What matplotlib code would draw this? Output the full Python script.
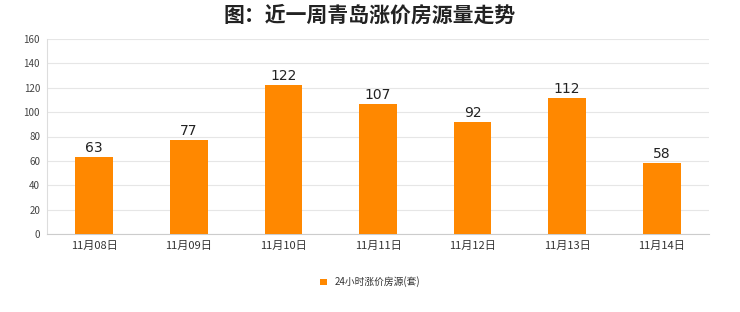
import matplotlib
matplotlib.use("Agg")
import matplotlib.pyplot as plt
from matplotlib.patches import Patch

plt.rcParams['font.family'] = ['Noto Sans CJK SC', 'DejaVu Sans']

categories = ["11月08日", "11月09日", "11月10日", "11月11日", "11月12日", "11月13日", "11月14日"]
values = [63, 77, 122, 107, 92, 112, 58]
series_name = "24小时涨价房源(套)"
title = "图：近一周青岛涨价房源量走势"
yticks = [0, 20, 40, 60, 80, 100, 120, 140, 160]

color = "#FF8800"

fig = plt.figure(figsize=(7.4, 3.12), dpi=100)
ax = fig.add_axes([47/740, 1-234/312, (709-47)/740, (234-39)/312])

x = list(range(len(categories)))
bars = ax.bar(x, values, width=0.4, color=color, zorder=3)
for xi, v in zip(x, values):
    ax.text(xi, v + 1.5, str(v), ha='center', va='bottom', fontsize=10,
            family='DejaVu Sans', color='#222222', zorder=4)

ax.set_xlim(-0.5, len(categories) - 0.5)
ax.set_ylim(0, 160)
ax.set_yticks(yticks)
ax.set_yticklabels([str(t) for t in yticks], fontsize=7, color='#444444')
ax.set_xticks(x)
ax.set_xticklabels(categories, fontsize=8, color='#333333')
ax.tick_params(axis='both', length=0, pad=5)
ax.grid(axis='y', color='#e6e6e6', linewidth=0.8, zorder=0)
for s in ['top', 'right']:
    ax.spines[s].set_visible(False)
ax.spines['left'].set_color('#dddddd')
ax.spines['bottom'].set_color('#cccccc')

fig.text(0.5, 1-15/312, title, ha='center', va='center', fontsize=15, fontweight='bold', color='#222222')

fig.legend(handles=[Patch(facecolor=color, label=series_name)], loc='center',
           bbox_to_anchor=(0.5, 1-282/312), frameon=False, fontsize=7,
           handlelength=0.7, handleheight=0.7, labelcolor='#333333')

fig.savefig("out.png", dpi=100, facecolor='white')
